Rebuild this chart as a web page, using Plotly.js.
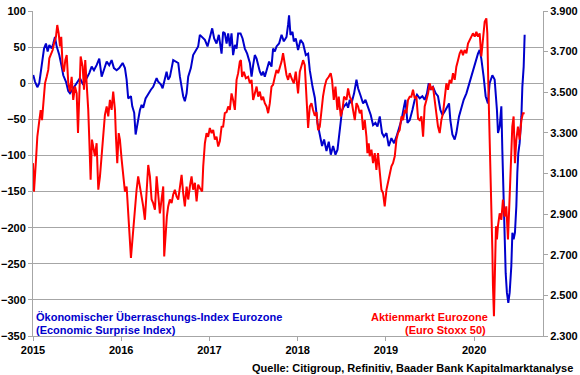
<!DOCTYPE html>
<html>
<head>
<meta charset="utf-8">
<script src="https://cdn.plot.ly/plotly-3.0.1.min.js"></script>
<style>
  html, body { margin: 0; padding: 0; background: #ffffff; }
  #chart { width: 580px; height: 375px; }
</style>
</head>
<body>
<div id="chart"></div>
<script>
// Economic Surprise Index Eurozone (left axis), time in decimal years
const esiYears = [2015.003, 2015.023, 2015.049, 2015.071, 2015.099, 2015.125, 2015.147, 2015.166, 2015.185, 2015.212,
  2015.230, 2015.249, 2015.268, 2015.298, 2015.325, 2015.343, 2015.374, 2015.400, 2015.419, 2015.456,
  2015.495, 2015.532, 2015.570, 2015.608, 2015.638, 2015.665, 2015.691, 2015.721, 2015.751, 2015.778,
  2015.804, 2015.835, 2015.864, 2015.891, 2015.917, 2015.948, 2015.977, 2016.016, 2016.042, 2016.061,
  2016.079, 2016.110, 2016.125, 2016.147, 2016.163, 2016.186, 2016.212, 2016.231, 2016.249, 2016.276,
  2016.306, 2016.336, 2016.362, 2016.401, 2016.419, 2016.450, 2016.469, 2016.495, 2016.514, 2016.532,
  2016.552, 2016.589, 2016.616, 2016.646, 2016.665, 2016.684, 2016.702, 2016.721, 2016.741, 2016.759,
  2016.789, 2016.815, 2016.843, 2016.872, 2016.891, 2016.917, 2016.948, 2016.978, 2017.005, 2017.031,
  2017.053, 2017.080, 2017.106, 2017.137, 2017.155, 2017.174, 2017.194, 2017.212, 2017.231, 2017.250,
  2017.268, 2017.288, 2017.307, 2017.325, 2017.352, 2017.375, 2017.401, 2017.427, 2017.458, 2017.477,
  2017.495, 2017.514, 2017.534, 2017.552, 2017.571, 2017.590, 2017.608, 2017.627, 2017.647, 2017.676,
  2017.703, 2017.721, 2017.741, 2017.760, 2017.789, 2017.817, 2017.843, 2017.873, 2017.891, 2017.902,
  2017.918, 2017.941, 2017.956, 2017.978, 2018.004, 2018.032, 2018.061, 2018.092, 2018.118, 2018.137,
  2018.168, 2018.194, 2018.224, 2018.250, 2018.276, 2018.299, 2018.326, 2018.352, 2018.375, 2018.401,
  2018.428, 2018.451, 2018.466, 2018.488, 2018.503, 2018.525, 2018.553, 2018.571, 2018.590, 2018.609,
  2018.639, 2018.666, 2018.684, 2018.715, 2018.741, 2018.768, 2018.797, 2018.828, 2018.854, 2018.881,
  2018.904, 2018.930, 2018.956, 2018.978, 2019.006, 2019.032, 2019.062, 2019.092, 2019.119, 2019.145,
  2019.176, 2019.205, 2019.221, 2019.244, 2019.270, 2019.300, 2019.326, 2019.352, 2019.383, 2019.413,
  2019.439, 2019.465, 2019.485, 2019.504, 2019.533, 2019.564, 2019.590, 2019.617, 2019.640, 2019.666,
  2019.692, 2019.715, 2019.730, 2019.753, 2019.779, 2019.798, 2019.828, 2019.855, 2019.881, 2019.912,
  2019.941, 2019.968, 2019.994, 2020.017, 2020.043, 2020.062, 2020.081, 2020.107, 2020.130, 2020.156,
  2020.175, 2020.206, 2020.232, 2020.258, 2020.270, 2020.289, 2020.308, 2020.319, 2020.334, 2020.345,
  2020.357, 2020.371, 2020.387, 2020.402, 2020.421, 2020.433, 2020.447, 2020.462, 2020.478, 2020.489,
  2020.500, 2020.515, 2020.535, 2020.546, 2020.561, 2020.572];
const esiValues = [11.5, 2, -5.5, 0, 25, 48, 55, 44, 53, 48,
  55, 64, 51, 39, 23, 11, 2, -11, -14, -7,
  0, 7, -2, 7, 14, 23, 18, 25, 34, 9,
  18, 30, 25, 32, 21, 18, 21, 28, 21, 5,
  -21, -18, -32, -41, -71, -55, -37, -30, -34, -21,
  -14, -9, -5, 7, 2, -2, -7, 5, 16, 5,
  9, 32, 30, 28, 9, -9, -18, -25, -14, 9,
  21, 39, 46, 51, 67, 64, 60, 51, 64, 76,
  62, 55, 67, 41, 71, 69, 55, 69, 51, 69,
  39, 53, 48, 69, 69, 62, 48, 41, 28, 9,
  25, 39, 34, 25, 16, 11, 16, 9, 18, 30,
  23, 48, 44, 51, 55, 67, 58, 64, 81, 94,
  67, 71, 58, 62, 46, 60, 55, 39, 41, 18,
  -5, -20, -55, -74, -87, -78, -94, -81, -99, -87,
  -99, -92, -78, -55, -37, -32, -28, -34, -23, -28,
  -14, 5, -7, -18, -28, -23, -32, -44, -58, -55,
  -60, -46, -69, -74, -69, -87, -76, -83, -74, -62,
  -51, -32, -23, -55, -51, -37, -23, -16, -21, -18,
  -23, -14, 0, -9, -5, -14, -18, -37, -44, -39,
  -32, -28, -51, -71, -78, -69, -46, -32, -23, -14,
  -2, 11, 23, 30, 41, 46, 34, 9, -18, -28,
  0, 11, 5, -37, -69, -60, -32, -92, -170, -216,
  -263, -290, -304, -290, -253, -207, -216, -207, -170, -124,
  -97, -83, -46, -5, 23, 67];

// Euro Stoxx 50 (right axis), time in decimal years
const stoxxYears = [2015.000, 2015.011, 2015.034, 2015.049, 2015.068, 2015.087, 2015.102, 2015.117, 2015.136, 2015.155,
  2015.173, 2015.185, 2015.200, 2015.223, 2015.238, 2015.260, 2015.275, 2015.291, 2015.306, 2015.320,
  2015.336, 2015.351, 2015.366, 2015.382, 2015.400, 2015.419, 2015.438, 2015.456, 2015.476, 2015.495,
  2015.510, 2015.524, 2015.540, 2015.563, 2015.578, 2015.592, 2015.608, 2015.626, 2015.638, 2015.653,
  2015.668, 2015.683, 2015.702, 2015.721, 2015.740, 2015.759, 2015.778, 2015.796, 2015.815, 2015.835,
  2015.853, 2015.872, 2015.891, 2015.909, 2015.929, 2015.940, 2015.955, 2015.971, 2015.985, 2016.005,
  2016.023, 2016.042, 2016.061, 2016.079, 2016.110, 2016.136, 2016.155, 2016.174, 2016.192, 2016.212,
  2016.231, 2016.249, 2016.268, 2016.287, 2016.306, 2016.325, 2016.344, 2016.362, 2016.382, 2016.401,
  2016.419, 2016.438, 2016.457, 2016.476, 2016.487, 2016.503, 2016.517, 2016.532, 2016.551, 2016.571,
  2016.589, 2016.608, 2016.627, 2016.646, 2016.665, 2016.684, 2016.702, 2016.721, 2016.741, 2016.759,
  2016.778, 2016.797, 2016.815, 2016.835, 2016.854, 2016.872, 2016.891, 2016.917, 2016.929, 2016.948,
  2016.967, 2016.985, 2017.004, 2017.024, 2017.042, 2017.061, 2017.080, 2017.099, 2017.118, 2017.137,
  2017.155, 2017.174, 2017.194, 2017.212, 2017.231, 2017.250, 2017.268, 2017.288, 2017.307, 2017.325,
  2017.344, 2017.356, 2017.370, 2017.390, 2017.412, 2017.438, 2017.458, 2017.477, 2017.495, 2017.514,
  2017.534, 2017.552, 2017.571, 2017.590, 2017.608, 2017.627, 2017.647, 2017.665, 2017.684, 2017.703,
  2017.721, 2017.741, 2017.760, 2017.778, 2017.797, 2017.817, 2017.834, 2017.854, 2017.873, 2017.891,
  2017.910, 2017.930, 2017.956, 2017.978, 2018.004, 2018.024, 2018.043, 2018.061, 2018.080, 2018.092,
  2018.106, 2018.118, 2018.137, 2018.156, 2018.174, 2018.194, 2018.213, 2018.231, 2018.250, 2018.269,
  2018.287, 2018.306, 2018.326, 2018.352, 2018.374, 2018.389, 2018.409, 2018.428, 2018.450, 2018.465,
  2018.488, 2018.507, 2018.525, 2018.553, 2018.571, 2018.590, 2018.609, 2018.627, 2018.647, 2018.666,
  2018.684, 2018.703, 2018.722, 2018.741, 2018.760, 2018.779, 2018.790, 2018.805, 2018.816, 2018.836,
  2018.854, 2018.873, 2018.892, 2018.910, 2018.930, 2018.949, 2018.967, 2018.986, 2019.006, 2019.024,
  2019.043, 2019.062, 2019.080, 2019.100, 2019.119, 2019.137, 2019.156, 2019.176, 2019.194, 2019.213,
  2019.232, 2019.250, 2019.269, 2019.288, 2019.307, 2019.326, 2019.345, 2019.364, 2019.383, 2019.402,
  2019.421, 2019.439, 2019.459, 2019.477, 2019.496, 2019.515, 2019.533, 2019.553, 2019.572, 2019.590,
  2019.609, 2019.628, 2019.647, 2019.666, 2019.685, 2019.703, 2019.722, 2019.741, 2019.760, 2019.779,
  2019.798, 2019.817, 2019.836, 2019.855, 2019.873, 2019.892, 2019.912, 2019.930, 2019.949, 2019.968,
  2019.986, 2020.006, 2020.025, 2020.043, 2020.062, 2020.081, 2020.100, 2020.119, 2020.138, 2020.149,
  2020.160, 2020.172, 2020.183, 2020.194, 2020.206, 2020.213, 2020.224, 2020.235, 2020.247, 2020.258,
  2020.269, 2020.289, 2020.308, 2020.326, 2020.345, 2020.364, 2020.383, 2020.402, 2020.421, 2020.432,
  2020.447, 2020.462, 2020.478, 2020.496, 2020.515, 2020.535, 2020.553, 2020.572];
const stoxxValues = [3151, 3011, 3167, 3281, 3348, 3412, 3363, 3430, 3544, 3576,
  3610, 3667, 3683, 3708, 3740, 3773, 3831, 3790, 3726, 3773,
  3626, 3601, 3658, 3683, 3544, 3503, 3576, 3462, 3528, 3494,
  3299, 3462, 3676, 3626, 3512, 3658, 3544, 3413, 3267, 3069,
  3267, 3233, 3185, 3249, 3020, 3086, 3200, 3267, 3388, 3430,
  3381, 3462, 3413, 3503, 3413, 3281, 3151, 3299, 3267, 3167,
  3069, 3011, 3036, 2888, 2684, 2822, 2938, 3020, 3086, 3036,
  2987, 2938, 2872, 3020, 3142, 3086, 2972, 2954, 2922, 3086,
  3004, 2904, 2972, 3036, 2692, 2808, 2888, 2938, 2972, 2954,
  2997, 3020, 2987, 2972, 3036, 3093, 3004, 2938, 3036, 2972,
  3036, 3086, 3020, 3054, 2962, 3045, 3029, 3011, 3135, 3249,
  3299, 3281, 3324, 3299, 3315, 3267, 3281, 3233, 3260, 3330,
  3331, 3397, 3402, 3430, 3413, 3494, 3462, 3413, 3561, 3594,
  3651, 3658, 3576, 3601, 3569, 3576, 3544, 3561, 3462, 3494,
  3528, 3478, 3503, 3462, 3478, 3446, 3430, 3397, 3446, 3528,
  3537, 3576, 3610, 3594, 3619, 3651, 3692, 3626, 3585, 3561,
  3594, 3569, 3544, 3601, 3494, 3601, 3626, 3658, 3633, 3544,
  3413, 3324, 3430, 3446, 3413, 3384, 3402, 3313, 3330, 3410,
  3480, 3528, 3561, 3576, 3594, 3561, 3462, 3528, 3413, 3478,
  3381, 3413, 3478, 3462, 3519, 3478, 3462, 3413, 3363, 3446,
  3430, 3397, 3413, 3315, 3363, 3281, 3200, 3249, 3185, 3217,
  3151, 3200, 3118, 3200, 3086, 3020, 3004, 2938, 3020, 3054,
  3103, 3135, 3151, 3185, 3267, 3299, 3315, 3381, 3363, 3413,
  3397, 3462, 3478, 3478, 3512, 3470, 3480, 3370, 3363, 3381,
  3281, 3430, 3462, 3494, 3544, 3512, 3528, 3462, 3397, 3331,
  3299, 3363, 3397, 3462, 3544, 3512, 3561, 3544, 3594, 3561,
  3626, 3658, 3692, 3708, 3683, 3708, 3692, 3740, 3758, 3774,
  3790, 3774, 3797, 3774, 3790, 3676, 3749, 3847, 3864, 3790,
  3544, 3349, 3185, 2972, 2726, 2545, 2397, 2611, 2840, 2775,
  2840, 2904, 2872, 2972, 2888, 2938, 2775, 2987, 3167, 3331,
  3381, 3151, 3267, 3331, 3267, 3363, 3397, 3397];

const yearTicks = [2015, 2016, 2017, 2018, 2019, 2020];
const yearLabels = ['2015', '2016', '2017', '2018', '2019', '2020'];

const esiName = 'Ökonomischer Überraschungs-Index Eurozone';
const esiSub = '(Economic Surprise Index)';
const stoxxName = 'Aktienmarkt Eurozone';
const stoxxSub = '(Euro Stoxx 50)';
const sourceText = 'Quelle: Citigroup, Refinitiv, Baader Bank Kapitalmarktanalyse';

const BLUE = '#0000CC';
const RED = '#FF0000';
const GRID = '#A6A6A6';
const FONT = 'Liberation Sans, Arial, sans-serif';

const traces = [
  { x: esiYears, y: esiValues, type: 'scatter', mode: 'lines', name: esiName,
    line: { color: BLUE, width: 2 }, yaxis: 'y' },
  { x: stoxxYears, y: stoxxValues, type: 'scatter', mode: 'lines', name: stoxxName,
    line: { color: RED, width: 2 }, yaxis: 'y2' }
];

const tickFont = { family: FONT, size: 11, color: '#000000', weight: 'bold' };

const layout = {
  width: 580, height: 375,
  margin: { l: 33, r: 37, t: 11, b: 39, pad: 0 },
  paper_bgcolor: '#ffffff', plot_bgcolor: '#ffffff',
  separators: ',.',
  showlegend: false,
  font: { family: FONT, size: 11, color: '#000000' },
  xaxis: {
    range: [2015, 2020.78], tickmode: 'array', tickvals: yearTicks, ticktext: yearLabels,
    showgrid: false, zeroline: false, showline: true, linecolor: GRID, linewidth: 1,
    ticks: 'outside', ticklen: 4, tickcolor: GRID, tickfont: tickFont
  },
  yaxis: {
    range: [-350, 100], tick0: 0, dtick: 50, showgrid: true, gridcolor: GRID, gridwidth: 1,
    zeroline: false, showline: true, linecolor: GRID, linewidth: 1,
    ticks: 'outside', ticklen: 4, tickcolor: GRID, tickfont: tickFont
  },
  yaxis2: {
    range: [2300, 3900], tick0: 2300, dtick: 200, overlaying: 'y', side: 'right',
    showgrid: false, zeroline: false, showline: true, linecolor: GRID, linewidth: 1,
    ticks: 'outside', ticklen: 4, tickcolor: GRID, tickformat: ',d', tickfont: tickFont
  },
  annotations: [
    { text: esiName, xref: 'paper', yref: 'paper', x: 0, y: 0.057, xanchor: 'left', yanchor: 'middle',
      xshift: 1, showarrow: false, font: { family: FONT, size: 11, color: BLUE, weight: 'bold' } },
    { text: esiSub, xref: 'paper', yref: 'paper', x: 0, y: 0.018, xanchor: 'left', yanchor: 'middle',
      xshift: 1, showarrow: false, font: { family: FONT, size: 11, color: BLUE, weight: 'bold' } },
    { text: stoxxName, xref: 'paper', yref: 'paper', x: 0.778, y: 0.057, xanchor: 'center', yanchor: 'middle',
      showarrow: false, font: { family: FONT, size: 11, color: RED, weight: 'bold' } },
    { text: stoxxSub, xref: 'paper', yref: 'paper', x: 0.808, y: 0.018, xanchor: 'center', yanchor: 'middle',
      showarrow: false, font: { family: FONT, size: 11, color: RED, weight: 'bold' } },
    { text: sourceText, xref: 'paper', yref: 'paper', x: 1, y: -0.098, xanchor: 'right', yanchor: 'middle',
      xshift: 32, showarrow: false, font: { family: FONT, size: 11, color: '#000000', weight: 'bold' } }
  ]
};

Plotly.newPlot('chart', traces, layout, { displayModeBar: false, staticPlot: true });
</script>
</body>
</html>
